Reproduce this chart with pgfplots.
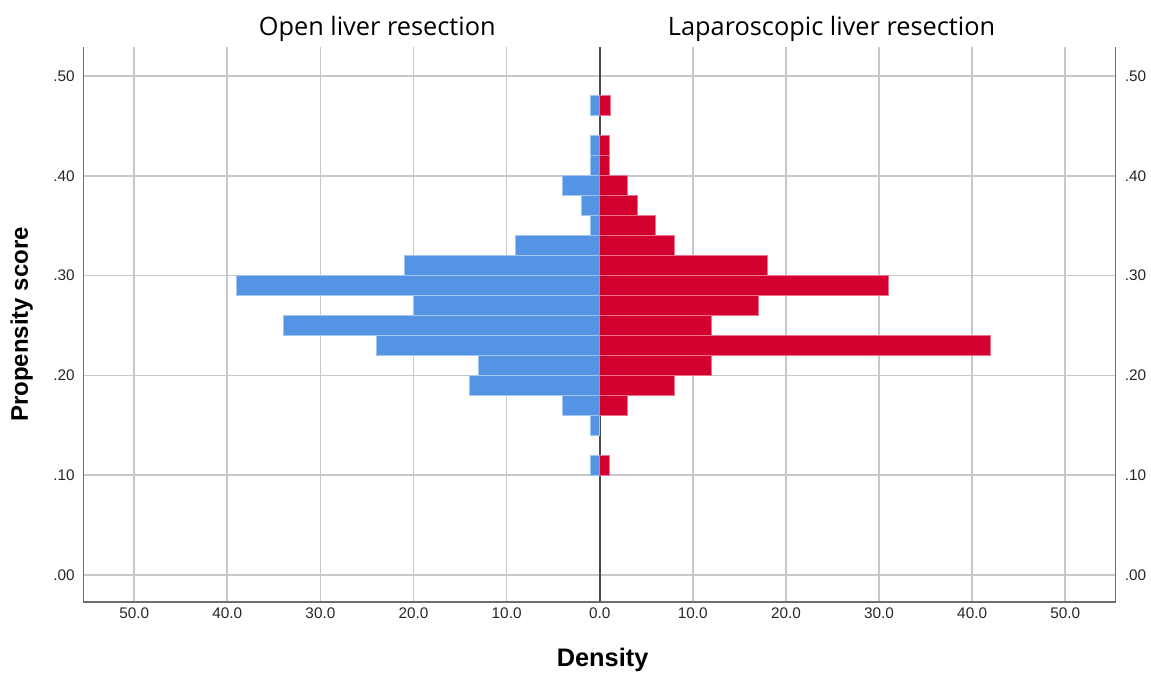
\documentclass[border=0pt]{standalone}
\usepackage{pgfplots}
\usepackage{pgfplotstable}
\pgfplotsset{compat=1.18}
\usepackage{fontspec}
\setmainfont{Liberation Sans}
\newfontfamily\titlefont{Open Sans}
\definecolor{olr}{HTML}{5594E4}
\definecolor{llr}{HTML}{D4002E}
\definecolor{gridc}{HTML}{C8C8C8}
\definecolor{axc}{HTML}{6E6E6E}
\definecolor{zeroc}{HTML}{4A4A4A}

\pgfplotstableread{
y open lap
0.47 -1 1.2
0.43 -1 1
0.41 -1 1
0.39 -4 3
0.37 -2 4
0.35 -1 6
0.33 -9 8
0.31 -21 18
0.29 -39 31
0.27 -20 17
0.25 -34 12
0.23 -24 42
0.21 -13 12
0.19 -14 8
0.17 -4 3
0.15 -1 nan
0.11 -1 1
}\datatab

\pgfplotsset{
  common/.style={
    scale only axis, width=774pt, height=416.25pt,
    xmin=-55.45, xmax=55.4, ymin=-0.0271, ymax=0.529,
    ytick={0,0.1,0.2,0.3,0.4,0.5},
    yticklabels={.00,.10,.20,.30,.40,.50},
    major tick length=0pt,
    /pgf/number format/assume math mode=true,
    ticklabel style={font=\fontsize{11.5}{13}\selectfont, text=black!85},
  }
}

\begin{document}
\begin{tikzpicture}
\begin{axis}[common, name=ax,
  axis x line*=bottom, axis y line*=left,
  x axis line style={-, draw=axc, line width=1.4pt},
  y axis line style={-, draw=axc, line width=1.4pt},
  xtick={-50,-40,-30,-20,-10,10,20,30,40,50},
  xticklabels={50.0,40.0,30.0,20.0,10.0,10.0,20.0,30.0,40.0,50.0},
  extra x ticks={0}, extra x tick labels={0.0},
  extra x tick style={grid style={draw=zeroc, line width=1.5pt}},
  grid=major,
  grid style={draw=gridc, line width=1.3pt},
  xticklabel style={anchor=north, inner sep=0pt, yshift=-3.8pt},
  yticklabel style={anchor=east, inner sep=0pt, xshift=-6.4pt},
  xlabel={Density}, ylabel={Propensity score},
  xlabel style={at={(axis description cs:0.503,-0.083)}, anchor=north, inner sep=0pt, font=\bfseries\fontsize{19}{22}\selectfont},
  ylabel style={at={(axis description cs:-0.0599,0.5)}, anchor=center, inner sep=0pt, font=\bfseries\fontsize{18}{22}\selectfont},
  clip=false,
]
\addplot[xbar, bar width=0.02, bar shift=0pt, fill=olr, draw=olr!55!white, line width=0.7pt]
  table[x=open, y=y] {\datatab};
\addplot[xbar, bar width=0.02, bar shift=0pt, fill=llr, draw=llr!55!white, line width=0.7pt]
  table[x=lap, y=y] {\datatab};
\node[anchor=base, yshift=9pt, font=\titlefont\fontsize{19}{22}\selectfont] at (axis cs:-23.9,0.529) {Open liver resection};
\node[anchor=base, yshift=9pt, font=\titlefont\fontsize{19}{22}\selectfont] at (axis cs:24.9,0.529) {Laparoscopic liver resection};
\end{axis}
\begin{axis}[common,
  axis x line=none, axis y line*=right,
  y axis line style={-, draw=axc, line width=1.4pt},
  yticklabel style={anchor=west, inner sep=0pt, xshift=6.8pt},
]
\end{axis}
\pgfresetboundingbox
\path[use as bounding box] ([xshift=-62.6pt,yshift=-53.25pt]ax.south west) rectangle ([xshift=26.6pt,yshift=35.25pt]ax.north east);
\end{tikzpicture}
\end{document}
